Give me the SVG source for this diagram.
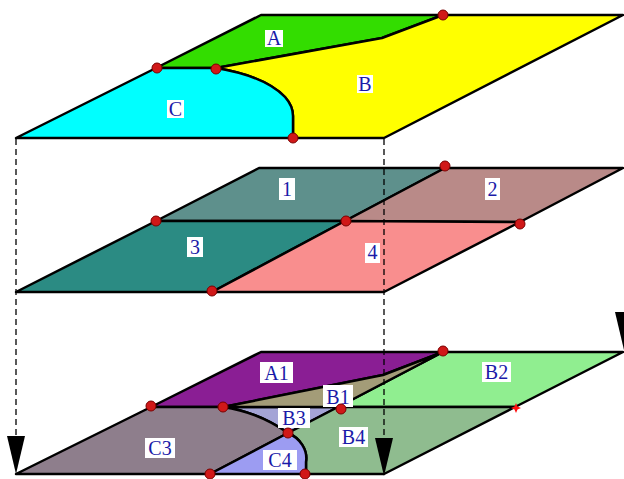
<svg xmlns="http://www.w3.org/2000/svg" xmlns:xlink="http://www.w3.org/1999/xlink" width="624" height="479" viewBox="0 0 624 479">
<style>
.r{stroke:#000;stroke-width:2.5;stroke-linejoin:round}
.t{stroke:#000;stroke-width:1.6;fill:none}
.bx{fill:#fff}
text{font-family:"Liberation Serif","Times New Roman",serif;font-size:20px;fill:#1a1aa8;text-anchor:middle}
.dot{fill:#d01818;stroke:#7a0000;stroke-width:1}
.dash{stroke:#000;stroke-width:1.3;stroke-dasharray:6 4;fill:none}
</style>
<defs>
<path id="ah" d="M-9,-38 L9,-38 L0,0 Z" fill="#000"/>
<circle id="d" r="5" class="dot"/>
</defs>
<rect width="624" height="479" fill="#fff"/>

<!-- top layer -->
<g id="top">
<g id="regA"><path class="r" fill="#33dd00" d="M156,68 L261,15 L443,15 L382,38 L216,68 Z"/><rect class="bx" x="265" y="30" width="18" height="17"/><text x="274" y="45">A</text></g>
<g id="regB"><path class="r" fill="#ffff00" d="M443,15 L623,15 L384,138 L293,138 L293,116 Q293,106 285,97 Q265,76 216,68 L382,38 Z"/><rect class="bx" x="357" y="75" width="16" height="18"/><text x="365" y="91">B</text></g>
<g id="regC"><path class="r" fill="#00ffff" d="M156,68 L216,68 Q265,76 285,97 Q293,106 293,116 L293,138 L16,138 Z"/><rect class="bx" x="167" y="100" width="17" height="18"/><text x="175.5" y="116">C</text></g>
<g id="topDots"><use xlink:href="#d" x="443" y="15"/><use xlink:href="#d" x="157" y="68"/><use xlink:href="#d" x="216" y="69"/><use xlink:href="#d" x="293" y="138"/></g>
</g>

<!-- middle layer -->
<g id="mid">
<g id="reg1"><path class="r" fill="#5e908c" d="M156,221 L259,168 L445,168 L345,221 Z"/><rect class="bx" x="279" y="178" width="16" height="22"/><text x="287" y="196">1</text></g>
<g id="reg2"><path class="r" fill="#b98a88" d="M445,168 L623,168 L520,222 L345,221 Z"/><rect class="bx" x="485" y="178" width="15" height="22"/><text x="492.5" y="196">2</text></g>
<g id="reg3"><path class="r" fill="#2b8b83" d="M156,221 L345,221 L212,292 L16,292 Z"/><rect class="bx" x="187" y="237" width="16" height="20"/><text x="195" y="254">3</text></g>
<g id="reg4"><path class="r" fill="#f98e8e" d="M345,221 L520,222 L384,292 L212,292 Z"/><rect class="bx" x="365" y="243" width="15" height="20"/><text x="372.5" y="259">4</text></g>
<g id="midDots"><use xlink:href="#d" x="445" y="166"/><use xlink:href="#d" x="156" y="221"/><use xlink:href="#d" x="346" y="221"/><use xlink:href="#d" x="520" y="224"/><use xlink:href="#d" x="212" y="291"/></g>
</g>

<!-- bottom layer -->
<g id="bot">
<g id="regA1"><path class="r" fill="#8a1e94" d="M151,407 L261,352 L443,352 L383,375 L223,407 Z"/><rect class="bx" x="260" y="362" width="33" height="21"/><text x="276.5" y="380">A1</text></g>
<g id="regB2"><path class="r" fill="#90ee90" d="M443,352 L623,352 L515,407 L338,407 Z"/><rect class="bx" x="482" y="362" width="29" height="20"/><text x="496.5" y="379">B2</text></g>
<g id="regB3"><path class="r" fill="#a4a4d6" d="M223,407 L338,407 L288,433 Q258,412 223,407 Z"/></g>
<g id="regC3"><path class="r" fill="#8e7e8c" d="M151,407 L223,407 Q258,412 288,433 L210,474 L16,474 Z"/><rect class="bx" x="145" y="438" width="30" height="20"/><text x="160" y="455">C3</text></g>
<g id="regB4"><path class="r" fill="#8fbc8f" d="M338,407 L515,407 L384,474 L306,474 L306,462 C308,450 300,438 288,433 Z"/><rect class="bx" x="339" y="427" width="29" height="20"/><text x="353.5" y="444">B4</text></g>
<g id="regC4"><path class="r" fill="#9c9cf2" d="M288,433 C300,438 308,450 306,462 L306,474 L210,474 Z"/><rect class="bx" x="263" y="450" width="34" height="20"/><text x="280" y="467">C4</text></g>
<g id="regB1"><path class="r" fill="#a39c78" d="M443,352 L383,375 L223,407 L338,407 Z"/><rect class="bx" x="323" y="385" width="30" height="22"/><text x="338" y="404">B1</text></g>
<g id="regB3lbl"><rect class="bx" x="278" y="408" width="32" height="20"/><text x="294" y="425">B3</text></g>
<g id="botDots"><use xlink:href="#d" x="443" y="351"/><use xlink:href="#d" x="151" y="406"/><use xlink:href="#d" x="223" y="407"/><use xlink:href="#d" x="341" y="409"/><use xlink:href="#d" x="288" y="433"/><use xlink:href="#d" x="210" y="474"/><use xlink:href="#d" x="305" y="474"/>
<path d="M516,403 L517.5,406.5 L521,408 L517.5,409.5 L516,413 L514.5,409.5 L511,408 L514.5,406.5 Z" fill="#ff1010"/></g>
</g>

<!-- connectors -->
<g id="connectors">
<line class="dash" x1="16" y1="139" x2="16" y2="436"/>
<line class="dash" x1="384" y1="139" x2="384" y2="440"/>
<use xlink:href="#ah" x="16" y="474"/>
<use xlink:href="#ah" x="384" y="476"/>
<use xlink:href="#ah" x="624" y="350"/>
</g>
</svg>
